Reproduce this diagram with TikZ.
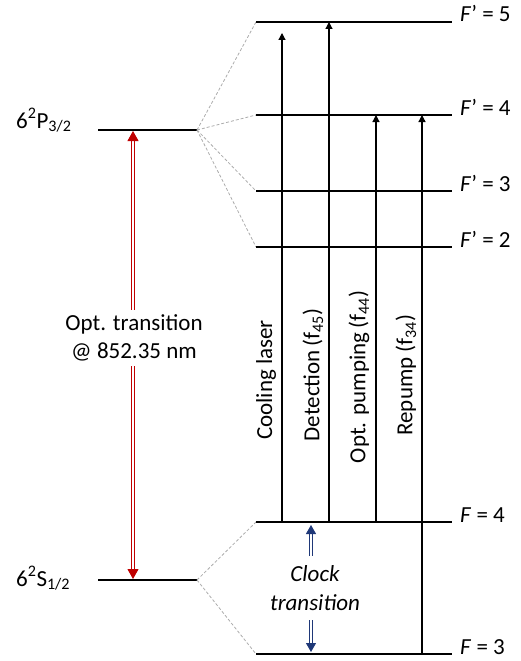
\documentclass[tikz,border=0pt]{standalone}
\usepackage{fontspec}
\setmainfont{Carlito}
\usetikzlibrary{arrows.meta}
\definecolor{lred}{RGB}{192,0,0}
\definecolor{lblue}{RGB}{31,56,120}
\begin{document}
\begin{tikzpicture}[x=1pt,y=-1pt,
  level/.style={line width=1.3pt},
  mainlevel/.style={line width=2.4pt},
  split/.style={draw=gray!65,dash pattern=on 3pt off 2pt,line width=0.8pt},
  beam/.style={line width=1.2pt,-{Triangle[length=7pt,width=7pt]}},
  lbl/.style={font=\fontsize{23}{28}\selectfont,inner sep=0pt},
  vlbl/.style={font=\fontsize{23}{28}\selectfont,rotate=90,inner sep=1pt},
  redtip/.tip={Triangle[length=10pt,width=11pt,fill=lred]},
  bluetip/.tip={Triangle[length=9pt,width=10pt,fill=lblue]},
  redarr/.style={draw=lred,double=white,double distance=1.8pt,line width=1pt,redtip-redtip},
  bluearr/.style={draw=lblue,double=white,double distance=1.6pt,line width=0.9pt,-bluetip}
]
\useasboundingbox (0,0) rectangle (520,661);
% left levels
\coordinate (PL) at (98,130); \coordinate (PR) at (197,130);
\coordinate (SL) at (98,580); \coordinate (SR) at (197,580);
\draw[mainlevel] (PL) -- (PR);
\draw[mainlevel] (SL) -- (SR);
\node[lbl,anchor=base west] (Plab) at (16,128) {6\textsuperscript{2}P\textsubscript{3/2}};
\node[lbl,anchor=base west] (Slab) at (16,586) {6\textsuperscript{2}S\textsubscript{1/2}};
% hyperfine levels
\foreach \n/\y in {e5/22,e4/115,e3/191,e2/247,g4/522,g3/654}{
  \coordinate (\n L) at (256,\y);
  \coordinate (\n R) at (452,\y);
}
\foreach \n in {e5,e4,e3,e2}{ \draw[split] (PR) -- (\n L); }
\foreach \n in {g4,g3}{ \draw[split] (SR) -- (\n L); }
\foreach \n in {e5,e4,e3,e2,g4,g3}{ \draw[level] (\n L) -- (\n R); }
\node[lbl,anchor=base west] (l5) at (460,22) {\textit{F}’ = 5};
\node[lbl,anchor=base west] (l4) at (460,115) {\textit{F}’ = 4};
\node[lbl,anchor=base west] (l3) at (460,191) {\textit{F}’ = 3};
\node[lbl,anchor=base west] (l2) at (460,247) {\textit{F}’ = 2};
\node[lbl,anchor=base west] (lg4) at (460,522) {\textit{F} = 4};
\node[lbl,anchor=base west] (lg3) at (460,654) {\textit{F} = 3};
% beams
\coordinate (c0) at (282,522); \coordinate (c1) at (282,33);
\coordinate (d0) at (329,522); \coordinate (d1) at (329,22);
\coordinate (o0) at (376,522); \coordinate (o1) at (376,115);
\coordinate (r0) at (422,654); \coordinate (r1) at (422,115);
\draw[beam] (c0) -- (c1);
\draw[beam] (d0) -- (d1);
\draw[beam] (o0) -- (o1);
\draw[beam] (r0) -- (r1);
\node[vlbl] (cl) at (266,380) {Cooling laser};
\node[vlbl] (dl) at (313,375) {Detection\,(f\textsubscript{45})};
\node[vlbl] (ol) at (359,377) {Opt. pumping\,(f\textsubscript{44})};
\node[vlbl] (rl) at (406,375) {Repump (f\textsubscript{34})};
% optical transition
\coordinate (oa) at (133,131); \coordinate (ob) at (133,579);
\draw[redarr] (oa) -- (ob);
\node[lbl,fill=white,align=center,inner xsep=3pt,inner ysep=5pt] (ot) at (134,338) {Opt. transition\\@ 852.35 nm};
% clock transition
\coordinate (ca) at (311,556); \coordinate (cb) at (311,525);
\coordinate (cc) at (311,620); \coordinate (cd) at (311,652);
\draw[bluearr] (ca) -- (cb);
\draw[bluearr] (cc) -- (cd);
\node[lbl,align=center,font=\fontsize{23}{29}\selectfont\itshape] (ct) at (315,588) {Clock\\transition};
\end{tikzpicture}
\end{document}
